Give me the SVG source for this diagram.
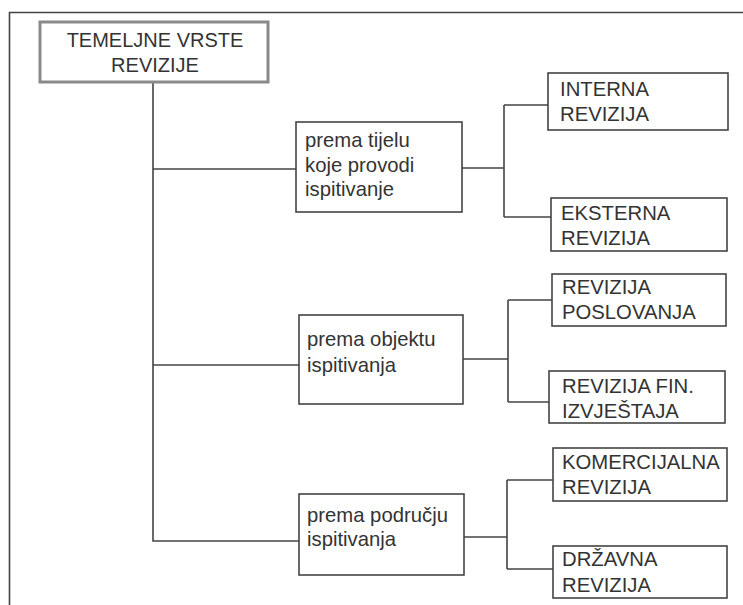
<svg xmlns="http://www.w3.org/2000/svg" width="743" height="605" viewBox="0 0 743 605">
<style>
.box{fill:#fff;stroke:#444;stroke-width:1.6}
.root{fill:#fff;stroke:#8a8a8a;stroke-width:3}
.ln{fill:none;stroke:#444;stroke-width:1.6}
text{font-family:"Liberation Sans",Arial,sans-serif;font-size:20.3px;fill:#333}
.c{text-anchor:middle;font-size:20px}
</style>
<rect width="743" height="605" fill="#fff"/>
<path class="ln" d="M9.5,605 V12.5 H743" stroke-width="1.8"/>
<g id="connectors">
<path class="ln" d="M153,82 V541 H299"/>
<path class="ln" d="M153,169 H297"/>
<path class="ln" d="M153,365 H299"/>
<path class="ln" d="M462,168 H504 M504,105 V217 M504,105 H548 M504,217 H551"/>
<path class="ln" d="M463,359 H508 M508,300 V402 M508,300 H552 M508,402 H549"/>
<path class="ln" d="M464,537 H507 M507,480 V569 M507,480 H553 M507,569 H553"/>
</g>
<g id="root">
<rect class="root" x="40" y="22" width="228" height="60"/>
<text class="c" x="155" y="47">TEMELJNE VRSTE</text>
<text class="c" x="155" y="72">REVIZIJE</text>
</g>
<g id="tijelo">
<rect class="box" x="296" y="122" width="166" height="90"/>
<text x="305" y="147">prema tijelu</text>
<text x="305" y="172">koje provodi</text>
<text x="305" y="196">ispitivanje</text>
</g>
<g id="objekt">
<rect class="box" x="299" y="315" width="164" height="89"/>
<text x="307" y="346">prema objektu</text>
<text x="307" y="372">ispitivanja</text>
</g>
<g id="podrucje">
<rect class="box" x="299" y="494" width="165" height="81"/>
<text x="307" y="522">prema području</text>
<text x="307" y="546">ispitivanja</text>
</g>
<g id="interna">
<rect class="box" x="548" y="73" width="180" height="57"/>
<text x="560" y="96">INTERNA</text>
<text x="560" y="121">REVIZIJA</text>
</g>
<g id="eksterna">
<rect class="box" x="551" y="198" width="176" height="53"/>
<text x="561" y="220">EKSTERNA</text>
<text x="561" y="245">REVIZIJA</text>
</g>
<g id="poslovanja">
<rect class="box" x="552" y="274" width="174" height="52"/>
<text x="562" y="294">REVIZIJA</text>
<text x="562" y="319">POSLOVANJA</text>
</g>
<g id="fin">
<rect class="box" x="549" y="371" width="176" height="52"/>
<text x="562" y="393">REVIZIJA FIN.</text>
<text x="562" y="418">IZVJEŠTAJA</text>
</g>
<g id="komercijalna">
<rect class="box" x="553" y="448" width="174" height="53"/>
<text x="562" y="469">KOMERCIJALNA</text>
<text x="562" y="494">REVIZIJA</text>
</g>
<g id="drzavna">
<rect class="box" x="553" y="546" width="174" height="52"/>
<text x="562" y="566">DRŽAVNA</text>
<text x="562" y="592">REVIZIJA</text>
</g>
</svg>
